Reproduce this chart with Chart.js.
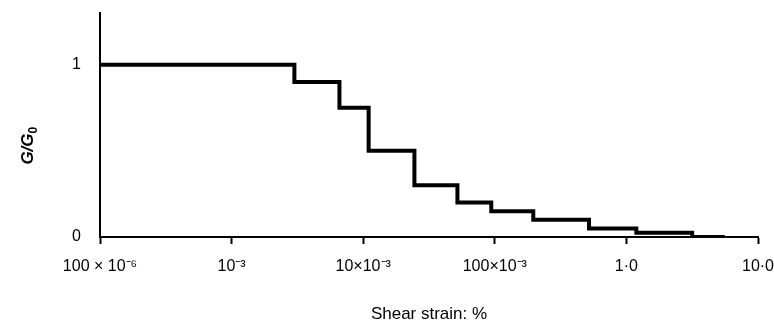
<!DOCTYPE html>
<html>
<head>
<meta charset="utf-8">
<script src="https://cdn.jsdelivr.net/npm/chart.js@4/dist/chart.umd.min.js"></script>
<style>
  html, body { margin: 0; padding: 0; background: #fff; }
  #wrap { width: 774px; height: 325px; }
</style>
</head>
<body>
<div id="wrap"><canvas id="strainChart" width="774" height="325"></canvas></div>
<script>
// shear strain (%) where each step starts, and G/G0 held from there on
const strainSteps = [0.0001, 0.003, 0.0066, 0.011, 0.0245, 0.052, 0.094, 0.196, 0.52, 1.19, 3.16, 5.6];
const modulusRatio = [1, 0.9, 0.75, 0.5, 0.3, 0.2, 0.15, 0.1, 0.05, 0.025, 0, 0];

const xTickValues = [0.0001, 0.001, 0.01, 0.1, 1, 10];
const xTickLabels = ['100 \u00d7 10\u207b\u2076', '10\u207b\u00b3', '10\u00d710\u207b\u00b3', '100\u00d710\u207b\u00b3', '1\u00b70', '10\u00b70'];
const yTickValues = [0, 1];

const font = 'Liberation Sans, Arial, sans-serif';

// y title G/G0 with a subscript 0
const yTitle = {
  id: 'yTitle',
  afterDraw(chart) {
    const c = chart.ctx;
    const yMid = chart.scales.y.getPixelForValue(0.53);
    c.save();
    c.translate(33, yMid);
    c.rotate(-Math.PI / 2);
    c.fillStyle = '#000';
    c.textBaseline = 'alphabetic';
    c.font = 'italic bold 17px ' + font;
    const main = 'G/G';
    const w = c.measureText(main).width;
    c.font = 'bold 12px ' + font;
    const sw = c.measureText('0').width;
    const x0 = -(w + sw) / 2;
    c.font = 'italic bold 17px ' + font;
    c.fillText(main, x0, 0);
    c.font = 'bold 12px ' + font;
    c.fillText('0', x0 + w, 4);
    c.restore();
  }
};

const ctx = document.getElementById('strainChart').getContext('2d');
new Chart(ctx, {
  type: 'line',
  data: {
    datasets: [{
      data: strainSteps.map((s, i) => ({ x: s, y: modulusRatio[i] })),
      stepped: 'before',
      borderColor: '#000',
      borderWidth: 4,
      pointRadius: 0,
      fill: false
    }]
  },
  options: {
    responsive: false,
    animation: false,
    layout: { padding: { top: 13, right: 16, left: 0, bottom: 0 } },
    plugins: { legend: { display: false }, tooltip: { enabled: false } },
    scales: {
      x: {
        type: 'logarithmic',
        min: 0.0001,
        max: 10,
        afterBuildTicks: (s) => { s.ticks = xTickValues.map(v => ({ value: v })); },
        afterFit: (s) => { s.height = 88; s.paddingLeft = 0; s.paddingRight = 0; },
        border: { color: '#000', width: 2 },
        grid: { drawOnChartArea: false, tickLength: 7, tickColor: '#000', tickWidth: 2 },
        ticks: {
          color: '#000',
          font: { family: font, size: 16 },
          padding: 13,
          maxRotation: 0,
          autoSkip: false,
          callback: (v) => {
            const i = xTickValues.findIndex(t => Math.abs(Math.log10(t) - Math.log10(v)) < 1e-6);
            return i >= 0 ? xTickLabels[i] : '';
          }
        },
        title: {
          display: true,
          text: 'Shear strain: %',
          color: '#000',
          font: { family: font, size: 17 },
          padding: { top: 0, bottom: 0 }
        }
      },
      y: {
        min: 0,
        max: 1.3,
        afterBuildTicks: (s) => { s.ticks = yTickValues.map(v => ({ value: v })); },
        afterFit: (s) => { s.width = 100; s.paddingTop = 0; s.paddingBottom = 0; },
        border: { color: '#000', width: 2 },
        grid: { drawOnChartArea: false, drawTicks: false },
        ticks: {
          color: '#000',
          font: { family: font, size: 16 },
          padding: 19
        }
      }
    }
  },
  plugins: [yTitle]
});
</script>
</body>
</html>
